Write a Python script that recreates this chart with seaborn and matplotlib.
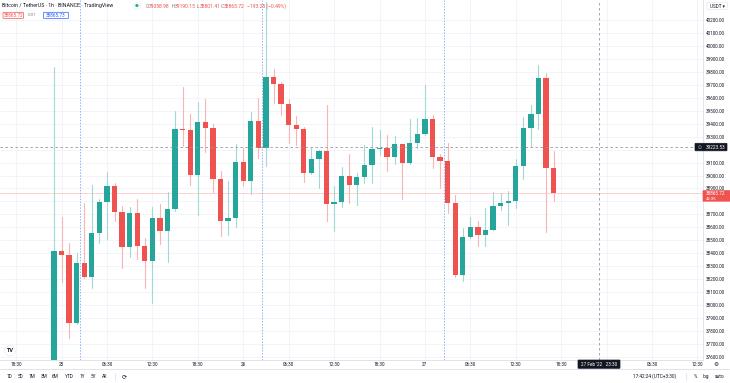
import numpy as np
import pandas as pd
import matplotlib
matplotlib.use("Agg")
import matplotlib.pyplot as plt
import seaborn as sns
from matplotlib.patches import FancyBboxPatch, Circle

# ---------------- data (BTC/USDT 1h, Feb 24 23:30 -> Feb 27 17:30, UTC+3:30) ----------------
opens = [37560, 38415, 38389, 37864, 38323, 38219, 38559, 38793, 38919, 38716,
         38446, 38708, 38459, 38340, 38670, 38572, 38739, 39359, 39350, 39004,
         39411, 39369, 38971, 38649, 38672, 39102, 38958, 39421, 39215, 39763,
         39704, 39550, 39387, 39357, 39017, 39125, 39192, 38780, 38795, 38999,
         38925, 38986, 39084, 39205, 39215, 39145, 39243, 39094, 39249, 39318,
         39434, 39141, 39114, 38786, 38232, 38523, 38600, 38541, 38580, 38767,
         38786, 38801, 39073, 39364, 39475, 39750, 39058.98]
highs = [39840, 38682, 38477, 38400, 38790, 38927, 38819, 39025, 38940, 38767,
         38760, 38817, 38516, 38755, 38780, 38870, 39498, 39681, 39475, 39565,
         39588, 39398, 39035, 38958, 39241, 39215, 39488, 39596, 40340, 39822,
         39724, 39590, 39462, 39377, 39215, 39197, 39542, 38921, 39068, 39166,
         39017, 39235, 39372, 39351, 39313, 39305, 39245, 39436, 39442, 39698,
         39467, 39166, 39249, 38850, 38593, 38682, 38651, 38752, 38870, 38863,
         38881, 39127, 39454, 39544, 39853, 39793, 39190.15]
lows = [37540, 38181, 37744, 37855, 38210, 38134, 38477, 38508, 38651, 38289,
        38374, 38354, 38130, 38014, 38469, 38335, 38730, 39228, 38927, 38695,
        39184, 38870, 38536, 38540, 38600, 38919, 38855, 39138, 39076, 39562,
        39467, 39249, 39235, 38952, 39010, 38906, 38649, 38572, 38755, 38786,
        38773, 38940, 38940, 39158, 39037, 39087, 38819, 39090, 39210, 39315,
        39060, 38906, 38713, 38215, 38189, 38515, 38459, 38456, 38577, 38734,
        38618, 38747, 38973, 39228, 39359, 38562, 38801.41]
closes = [38415, 38389, 37864, 38323, 38219, 38559, 38793, 38919, 38716, 38446,
          38708, 38459, 38340, 38670, 38572, 38739, 39359, 39350, 39004, 39411,
          39369, 38971, 38649, 38672, 39102, 38958, 39421, 39215, 39763, 39704,
          39550, 39387, 39357, 39017, 39125, 39192, 38780, 38795, 38999, 38925,
          38986, 39084, 39205, 39215, 39145, 39243, 39094, 39249, 39318, 39434,
          39141, 39114, 38786, 38232, 38523, 38600, 38541, 38580, 38767, 38786,
          38801, 39073, 39364, 39475, 39750, 39056, 38865.72]

time_tick_pos = [-5, 1, 7, 13, 19, 25, 31, 37, 43, 49, 55, 61, 67, 73, 79, 85]
time_tick_labels = ["18:30", "25", "06:30", "12:30", "18:30", "26", "06:30", "12:30",
                    "18:30", "27", "06:30", "12:30", "18:30", "", "06:30", "12:30"]
price_ticks = [37600, 37700, 37800, 37900, 38000, 38100, 38200, 38300, 38400, 38500,
               38600, 38700, 38800, 38900, 39000, 39100, 39200, 39300, 39400, 39500,
               39600, 39700, 39800, 39900, 40000, 40100, 40200]
hidden_price_labels = [38800, 39200]
session_breaks = [3.5, 27.5, 51.5]
crosshair_bar = 72
crosshair_price = 39223.53
last_price = 38865.72

GREEN, RED = "#26a69a", "#ef5350"
GREEN_W, RED_W = "#a2d9d3", "#f8b5b3"
TXT = "#131722"

sns.set_theme(style="white")
plt.rcParams["font.family"] = ["Roboto", "DejaVu Sans"]

W, H = 730, 383
fig = plt.figure(figsize=(W / 100, H / 100), dpi=100)
fig.patch.set_facecolor("white")

ax = fig.add_axes([0, 1 - 360 / H, 703 / W, 360 / H])
ax.set_facecolor("white")

n = len(opens)
t = np.arange(n)
o = np.array(opens); c = np.array(closes); hi = np.array(highs); lo = np.array(lows)
direction = np.where(c >= o, "up", "down")

wick_df = pd.DataFrame({
    "t": np.repeat(t, 2),
    "price": np.column_stack([lo, hi]).ravel(),
    "dir": np.repeat(direction, 2),
})
sns.lineplot(data=wick_df, x="t", y="price", units="t", estimator=None, sort=False,
             hue="dir", palette={"up": GREEN_W, "down": RED_W}, legend=False,
             linewidth=0.8, ax=ax, zorder=3)

body_h = np.maximum(np.abs(c - o), 8)
ax.bar(t, body_h, bottom=np.minimum(o, c), width=0.7,
       color=[GREEN if d == "up" else RED for d in direction], linewidth=0, zorder=4)

# scale
px_per_bar = 7.57
x0_px = 54
ax.set_xlim(-x0_px / px_per_bar, (703 - x0_px) / px_per_bar)
ax.set_ylim(40200 - 340 / 0.1296, 40200 + 20 / 0.1296)
ax.set_xlabel(""); ax.set_ylabel("")

ax.set_xticks(time_tick_pos)
ax.set_xticklabels(time_tick_labels)
ax.set_yticks(price_ticks)
ax.set_yticklabels(["" if p in hidden_price_labels else f"{p:.2f}" for p in price_ticks])
ax.yaxis.tick_right()
ax.tick_params(axis="y", length=0, pad=2.3, labelsize=3.3, labelcolor=TXT)
ax.tick_params(axis="x", length=0, pad=1.6, labelsize=3.3, labelcolor=TXT)
ax.grid(True, color="#f0f3fa", linewidth=0.6, zorder=0)
for s in ["top", "left"]:
    ax.spines[s].set_visible(False)
for s in ["right", "bottom"]:
    ax.spines[s].set_color("#e0e3eb")
    ax.spines[s].set_linewidth(0.7)

for sb in session_breaks:
    ax.axvline(sb, color="#2962ff", alpha=0.5, lw=0.7, ls=(0, (1.5, 1.5)), zorder=2)
ax.axvline(crosshair_bar, color="#9598a1", lw=0.6, ls=(0, (3, 3)), zorder=5)
ax.axhline(crosshair_price, color="#9598a1", lw=0.6, ls=(0, (3, 3)), zorder=5)
ax.axhline(last_price, color=RED, alpha=0.3, lw=0.6, zorder=2)

# ---------------- overlay in pixel coordinates ----------------
ov = fig.add_axes([0, 0, 1, 1], zorder=10)
ov.set_xlim(0, W); ov.set_ylim(H, 0); ov.axis("off"); ov.patch.set_alpha(0)

def box(x0, y0, x1, y1, fc, ec=None, lw=0.5, r=0.8):
    ov.add_patch(FancyBboxPatch((x0, y0), x1 - x0, y1 - y0,
                                boxstyle=f"round,pad=0,rounding_size={r}",
                                fc=fc, ec=ec if ec else fc, lw=lw))

# header
ov.text(2, 6, "Bitcoin / TetherUS · 1h · BINANCE · TradingView", fontsize=3.8,
        color=TXT, va="center", ha="left")
box(134, 3, 140, 9, "white", "#e0e3eb", lw=0.3)
ov.text(137, 6.1, "●", fontsize=3.2, color=GREEN, ha="center", va="center",
        family=["DejaVu Sans"])
pieces = [("O", "#787b86", 146), ("39058.98", RED, 148.6), ("H", "#787b86", 171.5),
          ("39190.15", RED, 174.3), ("L", "#787b86", 197), ("38801.41", RED, 199.3),
          ("C", "#787b86", 221), ("38865.72", RED, 223.8), ("−193.25 (−0.49%)", RED, 247)]
for txt, col, xx in pieces:
    ov.text(xx, 6, txt, fontsize=3.6, color=col, va="center", ha="left")
box(3, 12.3, 23.5, 18.5, "white", RED, lw=0.5)
ov.text(13.2, 15.5, "38865.72", fontsize=3.4, color=RED, ha="center", va="center")
ov.text(31.5, 15.5, "0.01", fontsize=3.2, color="#787b86", ha="center", va="center")
box(43.5, 12.3, 68.5, 18.5, "white", "#2962ff", lw=0.5)
ov.text(56, 15.5, "38865.73", fontsize=3.4, color="#2962ff", ha="center", va="center")

# price axis extras
box(707, 2.5, 727.5, 9.5, "white", "#e0e3eb", lw=0.4)
ov.text(717, 6, "USDT ▾", fontsize=3.3, color=TXT, ha="center", va="center",
        family=["Roboto", "DejaVu Sans"])
box(695, 143.3, 727, 150.8, TXT, r=0.6)
ov.text(700, 147.1, "⊙", fontsize=3.5, color="#b2b5be", ha="center", va="center",
        family=["DejaVu Sans"])
ov.text(706, 147.1, f"{crosshair_price:.2f}", fontsize=3.4, color="white",
        ha="left", va="center")
box(703, 190.6, 730, 201.2, RED, r=0.4)
ov.text(706, 193.6, f"{last_price:.2f}", fontsize=3.3, color="white", ha="left", va="center")
ov.text(706, 198.6, "42:35", fontsize=3.1, color="white", ha="left", va="center")

# time axis extras
box(578, 360, 620, 368.3, TXT, r=0.6)
ov.text(599, 364.2, "27 Feb '22   23:30", fontsize=3.3, color="white", ha="center", va="center")
ov.text(716, 364.2, "⚙", fontsize=4.2, color="#131722", ha="center", va="center",
        family=["DejaVu Sans"])
ov.add_patch(Circle((10, 350.7), 5.2, fc="white", ec="#e8eaf0", lw=0.5))
ov.text(10, 350.9, "TV", fontsize=4.0, color=TXT, ha="center", va="center", weight="bold")

# toolbar
ov.plot([0, W], [369, 369], color="#e0e3eb", lw=0.7)
for lab, xx in [("1D", 9.3), ("5D", 20.7), ("1M", 32), ("3M", 43.7), ("6M", 55.3),
                ("YTD", 69), ("1Y", 82), ("5Y", 93.3), ("All", 104.7)]:
    ov.text(xx, 376.3, lab, fontsize=3.4, color=TXT, ha="center", va="center")
ov.plot([114.5, 114.5], [372.5, 380], color="#e0e3eb", lw=0.6)
ov.text(124, 376.3, "⟳", fontsize=4.5, color=TXT, ha="center", va="center",
        family=["DejaVu Sans"])
ov.text(655, 376.3, "17:42:24 (UTC+3:30)", fontsize=3.4, color=TXT, ha="center", va="center")
ov.plot([685.5, 685.5], [372.5, 380], color="#e0e3eb", lw=0.6)
ov.text(695, 376.3, "%", fontsize=3.4, color=TXT, ha="center", va="center")
ov.text(705.7, 376.3, "log", fontsize=3.4, color=TXT, ha="center", va="center")
ov.text(720, 376.3, "auto", fontsize=3.4, color=TXT, ha="center", va="center")

fig.savefig("out.png", dpi=100, facecolor="white")
